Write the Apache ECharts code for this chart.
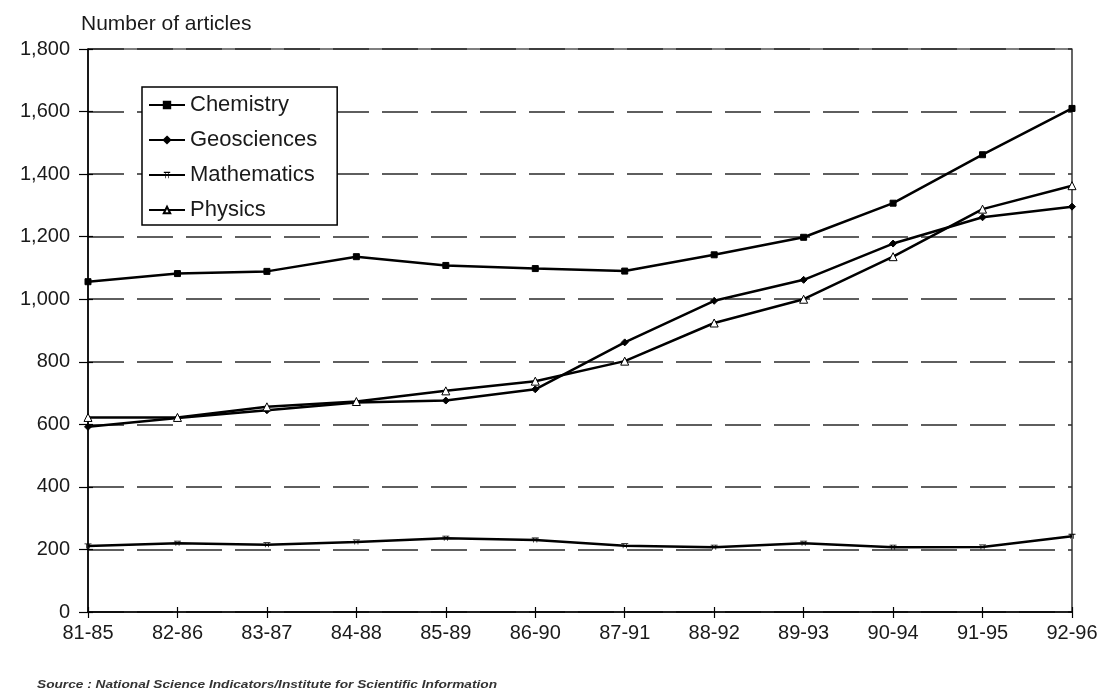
<!DOCTYPE html>
<html>
<head>
<meta charset="utf-8">
<script src="https://cdn.jsdelivr.net/npm/echarts@6/dist/echarts.min.js"></script>
<style>
  html, body { margin: 0; padding: 0; background: #fff; }
  #chart { width: 1104px; height: 697px; }
</style>
</head>
<body>
<div id="chart"></div>
<script>
// Five-year periods on the horizontal axis
const periods = ['81-85', '82-86', '83-87', '84-88', '85-89', '86-90',
                 '87-91', '88-92', '89-93', '90-94', '91-95', '92-96'];

// Number of articles per field and period
const chemistry   = [1056, 1082, 1089, 1136, 1108, 1098, 1090, 1142, 1198, 1307, 1462, 1610];
const geosciences = [ 592,  620,  645,  670,  676,  712,  862,  995, 1062, 1178, 1262, 1296];
const mathematics = [ 211,  220,  215,  224,  236,  230,  212,  207,  220,  207,  208,  242];
const physics     = [ 622,  622,  656,  673,  707,  738,  802,  924, 1000, 1136, 1288, 1363];

const yMin = 0, yMax = 1800, yStep = 200;

const FONT = '"Liberation Sans", Arial, sans-serif';
const INK = '#1a1a1a';

const chart = echarts.init(document.getElementById('chart'), null, { renderer: 'canvas' });

// Small "bar with two legs" marker for the mathematics series
const mathMarker = 'path://M0,0 L10,0 L10,1.2 L0,1.2 Z M2.2,1.2 L3.2,1.2 L3.2,7 L2.2,7 Z M6.8,1.2 L7.8,1.2 L7.8,7 L6.8,7 Z';

function lineSeries(name, data, symbol, size, fill, border) {
  return {
    name, type: 'line', data,
    xAxisIndex: 0, yAxisIndex: 0,
    symbol, symbolSize: size,
    showAllSymbol: true,
    lineStyle: { color: '#000', width: 2.5 },
    itemStyle: { color: fill, borderColor: '#000', borderWidth: border },
    emphasis: { disabled: true },
    animation: false
  };
}

chart.setOption({
  backgroundColor: '#fff',
  animation: false,
  title: {
    text: 'Number of articles',
    left: 76, top: 9,
    textStyle: { fontFamily: FONT, fontSize: 21, fontWeight: 'normal', color: INK }
  },
  grid: {
    left: 88, right: 32, top: 49, bottom: 85,
    show: true, borderColor: '#000', borderWidth: 1.2, backgroundColor: 'transparent'
  },
  legend: {
    orient: 'vertical',
    left: 142, top: 87,
    padding: [7, 20, 4, 6],
    itemGap: 13,
    itemWidth: 36, itemHeight: 8,
    backgroundColor: '#fff',
    borderColor: '#000', borderWidth: 1.5,
    textStyle: { fontFamily: FONT, fontSize: 22, color: INK, lineHeight: 22 },
    data: ['Chemistry', 'Geosciences', 'Mathematics', 'Physics']
  },
  xAxis: [
    {
      type: 'category', data: periods, boundaryGap: false, position: 'bottom',
      axisLine: { lineStyle: { color: '#000', width: 1.5 } },
      axisTick: { show: true, inside: false, length: 6, alignWithLabel: true, lineStyle: { color: '#000', width: 1.2 } },
      axisLabel: { fontFamily: FONT, fontSize: 20, color: INK, margin: 11, interval: 0 },
      splitLine: { show: false }
    },
    {
      type: 'category', data: periods, boundaryGap: false, position: 'bottom',
      axisLine: { show: false },
      axisTick: { show: true, inside: true, length: 5, lineStyle: { color: '#000', width: 1.2 } },
      axisLabel: { show: false },
      splitLine: { show: false }
    }
  ],
  yAxis: [
    {
      type: 'value', min: yMin, max: yMax, interval: yStep, position: 'left',
      axisLine: { show: true, lineStyle: { color: '#000', width: 1.5 } },
      axisTick: { show: true, inside: false, length: 9, lineStyle: { color: '#000', width: 1.2 } },
      axisLabel: {
        fontFamily: FONT, fontSize: 20, color: INK, margin: 18,
        formatter: v => v.toLocaleString('en-US')
      },
      splitLine: { show: true, lineStyle: { color: '#2a2a2a', width: 1.5, type: [36, 13], dashOffset: 0 } }
    },
    {
      type: 'value', min: yMin, max: yMax, interval: yStep, position: 'left',
      axisLine: { show: false },
      axisTick: { show: true, inside: true, length: 5, lineStyle: { color: '#000', width: 1.2 } },
      axisLabel: { show: false },
      splitLine: { show: false }
    }
  ],
  graphic: [
    {
      type: 'text', x: 37, y: 679, scaleX: 1.19, scaleY: 1,
      style: {
        text: 'Source : National Science Indicators/Institute for Scientific Information',
        font: 'italic 600 11.5px ' + FONT,
        fill: '#333',
        verticalAlign: 'top'
      }
    }
  ],
  series: [
    lineSeries('Chemistry', chemistry, 'rect', 6, '#000', 1),
    lineSeries('Geosciences', geosciences, 'diamond', 7, '#000', 1),
    lineSeries('Mathematics', mathematics, mathMarker, [7, 5], '#000', 0),
    lineSeries('Physics', physics, 'triangle', 8, '#fff', 1)
  ]
});
</script>
</body>
</html>
